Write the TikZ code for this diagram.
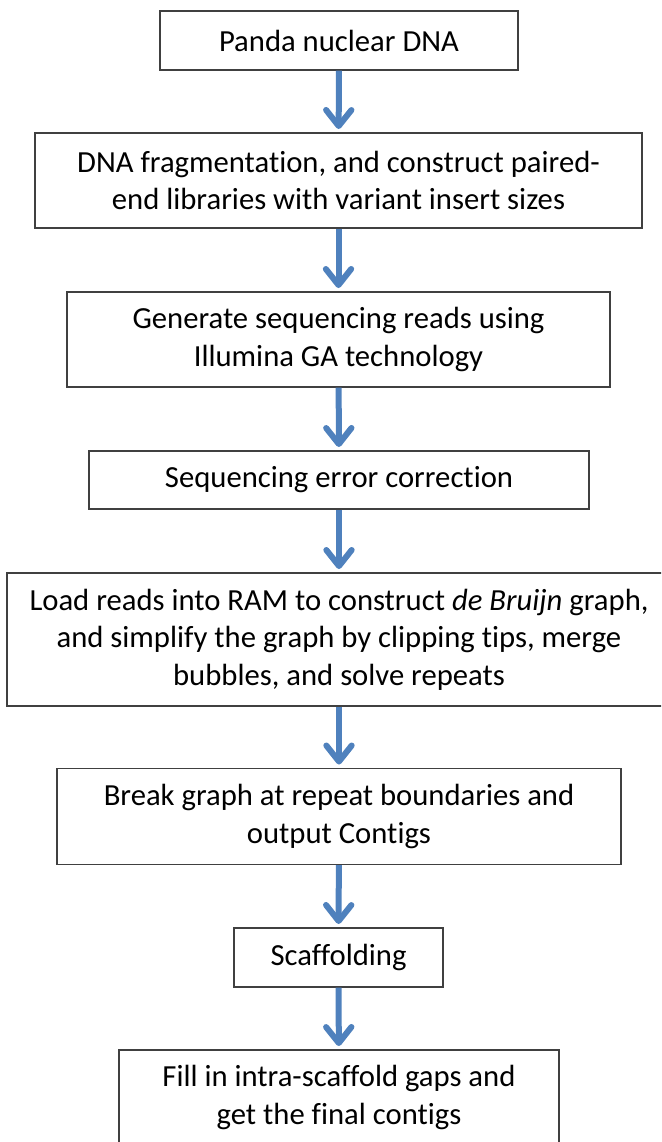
\documentclass[tikz,border=0pt]{standalone}
\usepackage{fontspec}
\setmainfont{Carlito}[RawFeature={-liga;-clig;-dlig;-rlig}]
\usetikzlibrary{arrows.meta}
\definecolor{flowblue}{RGB}{79,129,189}
\definecolor{boxline}{RGB}{64,64,64}
\begin{document}
\begin{tikzpicture}[x=0.75pt,y=-0.75pt,
  box/.style={draw=boxline, line width=1pt, fill=white, inner sep=0pt, align=center,
    font=\fontsize{23pt}{28pt}\selectfont},
  flow/.style={draw=flowblue, line width=4.5pt, shorten >=2.5pt,
    -{Straight Barb[length=12pt,width=19pt,line cap=round,line join=round]}}]
\useasboundingbox (0,0) rectangle (661,1142);
\clip (0,0) rectangle (661,1142);
\node[box, minimum width=268.5pt, minimum height=44.25pt] (bx0) at (339,40.5){Panda nuclear DNA};
\node[box, minimum width=455.25pt, minimum height=71.25pt] (bx1) at (338.5,180.5){DNA fragmentation, and construct paired-\\end libraries with variant insert sizes};
\node[box, minimum width=407.25pt, minimum height=71.25pt] (bx2) at (338.5,339.5){Generate sequencing reads using\\Illumina GA technology};
\node[box, minimum width=375pt, minimum height=43.5pt] (bx3) at (339,480){Sequencing error correction};
\node[box, minimum width=498pt, minimum height=99.75pt] (bx4) at (339,639.5){Load reads into RAM to construct \textit{de Bruijn} graph,\\and simplify the graph by clipping tips, merge\\bubbles, and solve repeats};
\node[box, minimum width=423pt, minimum height=72pt] (bx5) at (339,816.5){Break graph at repeat boundaries and\\output Contigs};
\node[box, minimum width=156.75pt, minimum height=44.25pt] (bx6) at (338.5,957.5){Scaffolding};
\node[box, minimum width=330pt, minimum height=71.25pt] (bx7) at (339,1097.5){Fill in intra-scaffold gaps and\\get the final contigs};
\draw[flow](bx0) -- (bx1);
\draw[flow](bx1) -- (bx2);
\draw[flow](bx2) -- (bx3);
\draw[flow](bx3) -- (bx4);
\draw[flow](bx4) -- (bx5);
\draw[flow](bx5) -- (bx6);
\draw[flow](bx6) -- (bx7);
\end{tikzpicture}
\end{document}
